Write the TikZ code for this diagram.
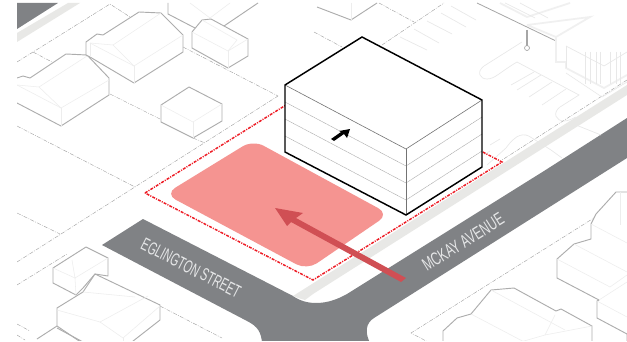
\documentclass[tikz,border=0pt]{standalone}
\usepackage{fontspec}
\setmainfont{Liberation Sans}
\newfontfamily\condA[FakeStretch=0.6]{Liberation Sans}
\newfontfamily\condB[FakeStretch=0.66]{Liberation Sans}
\definecolor{roadc}{HTML}{808285}
\definecolor{bandc}{HTML}{E8E8E6}
\definecolor{lotc}{HTML}{F59491}
\definecolor{arrc}{HTML}{D04F54}
\definecolor{redd}{HTML}{EE1C25}
\tikzset{
 road/.style={fill=roadc,draw=none},
 band/.style={fill=bandc,draw=none},
 parcel/.style={draw=black!38,line width=0.3pt,dash pattern=on 3pt off 1pt on 0.6pt off 1pt},
 house/.style={draw=black!32,line width=0.7pt,line join=round,fill=white},
 houseline/.style={draw=black!32,line width=0.7pt},
 inner/.style={draw=black!7,line width=0.4pt},
 pale/.style={draw=black!9,line width=0.5pt},
 palethick/.style={draw=black!6,line width=1.3pt},
 boundary/.style={draw=redd,line width=1.1pt,dash pattern=on 2.2pt off 0.9pt on 0.8pt off 0.9pt},
 bld/.style={draw=black,line width=1.1pt,line join=miter},
 floorline/.style={draw=black!32,line width=0.35pt,dash pattern=on 1pt off 0.3pt},
 topline/.style={draw=black!55,line width=0.45pt},
 streetlabel/.style={text=white!80!roadc,inner sep=0pt}
}
\begin{document}
\begin{tikzpicture}[x=0.75pt,y=-0.75pt]
\useasboundingbox (0,0) rectangle (627,342);
\fill[white] (0,0) rectangle (627,342);
\begin{scope}
\clip (17,3) rectangle (627,340);
% roads
\fill[road] (17,3) -- (58,3) -- (17,29) -- cycle;
\fill[band] (17,33) -- (68,3) -- (80,3) -- (17,42) -- cycle;
\fill[road] (102,245) -- (143,219) -- (293,296) .. controls (300,301) and (308,303) .. (316,303) .. controls (328,303) and (338,299) .. (347,294) -- (544,171) -- (627,118) -- (627,158) -- (374,318) .. controls (366,323) and (364,332) .. (371,345) -- (262,345) .. controls (262,332) and (257,326) .. (247,321) -- cycle;
\fill[band] (293,296) -- (627,85) -- (627,95) -- (313,294) -- (305,300) .. controls (301,299) and (298,298) .. (293,296) -- cycle;
% parcel lines
\draw[parcel] (17,62) -- (110,4) -- (130,17);
\draw[parcel] (33,52) -- (52,62);
\draw[parcel] (110,94) -- (160,119);
\draw[parcel] (183,47) -- (278,96);
\draw[parcel] (17,126) -- (135,187);
\draw[parcel] (17,213) -- (60,234);
\draw[parcel] (17,262) -- (278,96);
\draw[parcel] (17,285) -- (67,254);
\draw[parcel] (193,138) -- (205,143);
\draw[parcel] (379,3) -- (414,22);
\draw[parcel] (314,32) -- (342,47);
\draw[parcel] (382,45) -- (444,3);
\draw[parcel] (627,80) -- (502,160);
\draw[parcel] (160,306) -- (222,338);
\draw[parcel] (17,324) -- (30,331);
\draw[parcel] (17,335) -- (25,340);
\draw[parcel] (597,216) -- (411,333) -- (428,342);
% parking / right site
\foreach \a/\b/\c/\d in {400/37/427/50,414/29/439/43,427/21/452/34,441/13/466/27,451/6/476/20,517/90/541/75,529/97/552/82,542/105/566/89,511/85/534/72,576/125/601/135,484/155/490/151,490/145/500/139}
  {\draw[pale] (\a,\b) -- (\c,\d);}
\draw[pale] (522,42) -- (484,66) .. controls (476,72) and (480,79) .. (487,79) .. controls (495,79) and (500,72) .. (517,62) -- (579,95) -- (560,107) .. controls (552,113) and (556,121) .. (564,121) .. controls (568,121) and (572,119) .. (576,117);
\draw[pale] (487,165) -- (506,148) .. controls (516,134) and (524,132) .. (532,138) -- (551,150) -- (562,158);
\draw[pale] (566,73) -- (572,77) -- (602,97) -- (627,82);
% right building
\draw[draw=black!35,line width=0.6pt] (477,3) -- (556,41);
\draw[draw=black!35,line width=1.3pt] (527,30) -- (527,46);
\draw[draw=black!35,line width=0.5pt] (527,48) circle (2.5);
\draw[palethick] (527,25) -- (590,17) -- (556,37) -- (527,25);
\draw[palethick] (556,37) -- (556,62) -- (566,62) -- (566,68) -- (604,88) -- (627,75);
\draw[palethick] (500,3) -- (527,17) -- (570,3);
\draw[pale] (566,46) -- (566,68);
\foreach \x in {585,590,596,600,610,616,620} {\draw[pale] (\x,52) -- (\x,84);}
\draw[pale] (566,46) -- (604,66) -- (627,52);
\draw[pale] (505,3) -- (535,18);
\draw[pale] (520,3) -- (548,18);
% upper-left houses
\draw[houseline] (168,3) -- (168,14) -- (195,28);
\draw[houseline] (224,26) -- (258,3);
\draw[inner] (190,3) -- (210,18) -- (230,3);
\draw[houseline] (317,7) -- (351,20) -- (377,3);
\draw[inner] (351,3) -- (351,20);
\draw[house] (17,78) -- (23,76) -- (30,78) -- (66,54) -- (87,55) -- (109,78) -- (109,95) -- (61,126) -- (17,103);
\draw[inner] (17,85) -- (61,108) -- (109,80);
\draw[inner] (61,108) -- (61,126);
\draw[inner] (17,85) -- (39,87) -- (61,108);
\draw[inner] (39,87) -- (87,56);
\draw[house] (86,55) -- (86,42) -- (97,34) -- (103,35) -- (139,12) -- (161,13) -- (183,35) -- (183,52) -- (134,83) -- (90,57) -- cycle;
\draw[inner] (90,43) -- (134,66) -- (183,35);
\draw[inner] (134,66) -- (134,83);
\draw[inner] (90,43) -- (90,57);
\draw[inner] (90,43) -- (113,45) -- (134,66);
\draw[inner] (113,45) -- (161,13);
\draw[house] (192,32) -- (202,20) -- (211,19) -- (248,39) -- (248,56) -- (228,68) -- (192,48) -- cycle;
\draw[inner] (192,32) -- (228,51) -- (248,39);
\draw[inner] (228,51) -- (228,68);
\draw[inner] (202,20) -- (237,40) -- (228,51);
\draw[house] (161,105) -- (189,87) -- (222,104) -- (222,121) -- (193,138) -- (161,122) -- cycle;
\draw[inner] (161,105) -- (193,122) -- (222,104);
\draw[inner] (193,122) -- (193,138);
% lower-left houses
\draw[house] (53,268) -- (86,247) -- (108,258) -- (108,276) -- (95,274) -- (83,288) -- (76,295) -- (53,283) -- cycle;
\draw[inner] (53,268) -- (75,278) -- (108,258);
\draw[inner] (75,278) -- (76,295);
\draw[inner] (72,260) -- (75,278);
\draw[house] (95,274) -- (160,305) -- (160,320) -- (128,345) -- (85,345) -- (57,326) -- (57,308) -- (83,292) -- cycle;
\draw[inner] (57,310) -- (100,322) -- (148,296);
\draw[inner] (83,292) -- (135,297);
\draw[inner] (100,322) -- (123,338) -- (160,306);
\draw[inner] (123,338) -- (123,345);
\draw[houseline] (57,328) -- (83,342);
\draw[houseline] (57,326) -- (37,339);
% lower-right houses
\draw[house] (443,345) -- (443,331) -- (457,318) -- (471,314) -- (491,290) -- (514,288) -- (556,311) -- (561,309) -- (592,326) -- (592,345);
\draw[inner] (471,314) -- (530,345);
\draw[inner] (491,290) -- (565,330);
\draw[inner] (555,315) -- (545,335) -- (510,345);
\draw[inner] (545,335) -- (592,326);
\draw[house] (627,192) -- (616,192) -- (596,214) -- (591,224) -- (591,239) -- (574,244) -- (557,259) -- (557,278) -- (599,300) -- (597,301) -- (597,318) -- (627,334) -- (627,345) -- (640,345) -- (640,192) -- cycle;
\draw[inner] (591,224) -- (627,243);
\draw[inner] (557,259) -- (610,287) -- (627,275);
\draw[inner] (574,244) -- (627,272);
\draw[inner] (620,192) -- (620,225);
\draw[inner] (597,301) -- (627,317);
\draw[inner] (599,300) -- (627,282);
% lot
\fill[lotc,rounded corners=9pt] (253,140) -- (389,214) -- (307,270) -- (165,194) -- cycle;
% boundary
\draw[boundary] (145,193) -- (334,75) -- (502,162) -- (313,280) -- cycle;
% entry arrow
\fill[arrc] (275,208) -- (303,213) -- (296,218) -- (406,278) -- (401,282) -- (291,222) -- (287,226) -- cycle;
% proposed building
\fill[white] (285,85) -- (362,37) -- (482,100) -- (482,167) -- (406,215) -- (285,152) -- cycle;
\foreach \o in {17,34,51} {
  \draw[floorline] (285,85+\o) -- (406,149+\o) -- (482,100+\o);
}
\draw[topline] (285,85) -- (406,149) -- (482,100);
\draw[topline] (406,149) -- (406,215);
\draw[bld] (285,85) -- (362,37) -- (482,100) -- (482,167) -- (406,215) -- (285,152) -- cycle;
\fill[black] (350,129) -- (347,138) -- (344,134) -- (334,141) -- (331,139) -- (341,132) -- (339,131) -- cycle;
% labels
\node[streetlabel,rotate=-27,font=\condA\fontsize{13.5}{15}\selectfont] (eg) at (191,268) {EGLINGTON STREET};
\node[streetlabel,rotate=32,font=\condB\fontsize{13.5}{15}\selectfont] (mc) at (463,242) {MCKAY AVENUE};
\end{scope}
\end{tikzpicture}
\end{document}
